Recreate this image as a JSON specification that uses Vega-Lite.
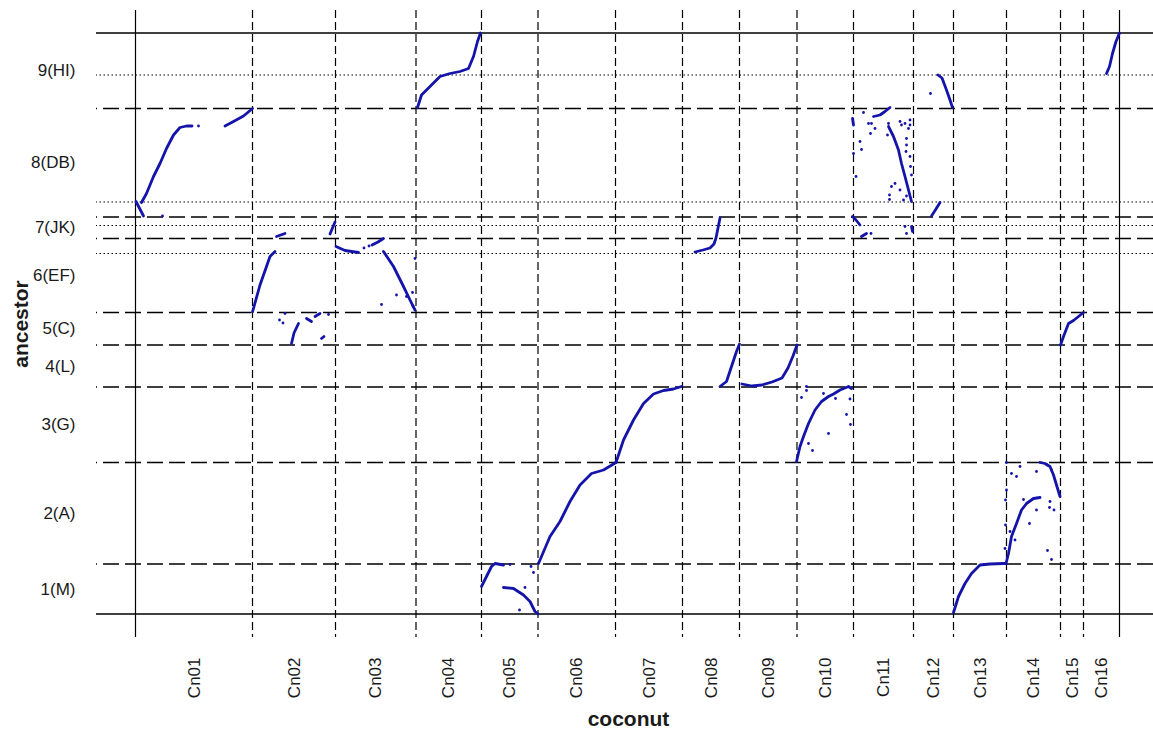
{
"$schema": "https://vega.github.io/schema/vega-lite/v6.json",
"width": 1057,
"height": 627,
"autosize": {"type": "none"},
"padding": {"left": 96, "top": 10, "right": 0, "bottom": 96},
"background": "white",
"config": {"view": {"stroke": null}, "font": "Liberation Sans"},
"datasets": {
"ref": [
{"o":"v","t":"solid","p":0},{"o":"v","t":"solid","p":1968},
{"o":"v","t":"dashed","p":234},{"o":"v","t":"dashed","p":400},{"o":"v","t":"dashed","p":561},{"o":"v","t":"dashed","p":692},{"o":"v","t":"dashed","p":805},{"o":"v","t":"dashed","p":960},{"o":"v","t":"dashed","p":1094},{"o":"v","t":"dashed","p":1208},{"o":"v","t":"dashed","p":1323},{"o":"v","t":"dashed","p":1436},{"o":"v","t":"dashed","p":1556},{"o":"v","t":"dashed","p":1636},{"o":"v","t":"dashed","p":1742},{"o":"v","t":"dashed","p":1850},{"o":"v","t":"dashed","p":1896},
{"o":"h","t":"solid","p":0},{"o":"h","t":"solid","p":1162},
{"o":"h","t":"dashed","p":100},{"o":"h","t":"dashed","p":303},{"o":"h","t":"dashed","p":454},{"o":"h","t":"dashed","p":538},{"o":"h","t":"dashed","p":603},{"o":"h","t":"dashed","p":751},{"o":"h","t":"dashed","p":794},{"o":"h","t":"dashed","p":1011},
{"o":"h","t":"dotted","p":721},{"o":"h","t":"dotted","p":777},{"o":"h","t":"dotted","p":824},{"o":"h","t":"dotted","p":1078}
],
"blocks": [
{"b":"c01a","o":0,"x":1,"y":825},{"b":"c01a","o":1,"x":16,"y":796},
{"b":"c01b","o":0,"x":12,"y":823},{"b":"c01b","o":1,"x":22,"y":841},{"b":"c01b","o":2,"x":36,"y":875},{"b":"c01b","o":3,"x":49,"y":901},{"b":"c01b","o":4,"x":62,"y":931},{"b":"c01b","o":5,"x":76,"y":958},{"b":"c01b","o":6,"x":89,"y":973},{"b":"c01b","o":7,"x":102,"y":976},{"b":"c01b","o":8,"x":113,"y":976},
{"b":"c01c","o":0,"x":179,"y":976},{"b":"c01c","o":1,"x":196,"y":985},{"b":"c01c","o":2,"x":216,"y":996},{"b":"c01c","o":3,"x":234,"y":1011},
{"b":"c02a","o":0,"x":234,"y":604},{"b":"c02a","o":1,"x":249,"y":658},{"b":"c02a","o":2,"x":269,"y":715},{"b":"c02a","o":3,"x":279,"y":725},
{"b":"c02b","o":0,"x":282,"y":755},{"b":"c02b","o":1,"x":299,"y":761},
{"b":"c02c","o":0,"x":389,"y":760},{"b":"c02c","o":1,"x":399,"y":784},
{"b":"c02d","o":0,"x":312,"y":541},{"b":"c02d","o":1,"x":317,"y":562},{"b":"c02d","o":2,"x":326,"y":581},
{"b":"c02e","o":0,"x":342,"y":591},{"b":"c02e","o":1,"x":352,"y":585},
{"b":"c02f","o":0,"x":359,"y":595},{"b":"c02f","o":1,"x":369,"y":601},
{"b":"c02g","o":0,"x":372,"y":551},{"b":"c02g","o":1,"x":377,"y":555},
{"b":"c03a","o":0,"x":401,"y":735},{"b":"c03a","o":1,"x":419,"y":727},{"b":"c03a","o":2,"x":446,"y":723},
{"b":"c03b","o":0,"x":473,"y":738},{"b":"c03b","o":1,"x":485,"y":744},{"b":"c03b","o":2,"x":496,"y":751},
{"b":"c03c","o":0,"x":496,"y":725},{"b":"c03c","o":1,"x":516,"y":695},{"b":"c03c","o":2,"x":536,"y":655},{"b":"c03c","o":3,"x":549,"y":628},{"b":"c03c","o":4,"x":559,"y":608},
{"b":"c04","o":0,"x":564,"y":1013},{"b":"c04","o":1,"x":572,"y":1038},{"b":"c04","o":2,"x":589,"y":1055},{"b":"c04","o":3,"x":609,"y":1075},{"b":"c04","o":4,"x":629,"y":1081},{"b":"c04","o":5,"x":649,"y":1085},{"b":"c04","o":6,"x":666,"y":1091},{"b":"c04","o":7,"x":676,"y":1115},{"b":"c04","o":8,"x":684,"y":1145},{"b":"c04","o":9,"x":690,"y":1162},
{"b":"c05a","o":0,"x":692,"y":55},{"b":"c05a","o":1,"x":702,"y":75},{"b":"c05a","o":2,"x":712,"y":95},{"b":"c05a","o":3,"x":719,"y":101},{"b":"c05a","o":4,"x":736,"y":98},
{"b":"c05b","o":0,"x":736,"y":53},{"b":"c05b","o":1,"x":756,"y":51},{"b":"c05b","o":2,"x":776,"y":38},{"b":"c05b","o":3,"x":789,"y":25},{"b":"c05b","o":4,"x":799,"y":5},{"b":"c05b","o":5,"x":805,"y":0},
{"b":"c06","o":0,"x":806,"y":101},{"b":"c06","o":1,"x":829,"y":155},{"b":"c06","o":2,"x":849,"y":185},{"b":"c06","o":3,"x":869,"y":225},{"b":"c06","o":4,"x":889,"y":258},{"b":"c06","o":5,"x":912,"y":281},{"b":"c06","o":6,"x":936,"y":288},{"b":"c06","o":7,"x":961,"y":303},
{"b":"c07","o":0,"x":961,"y":303},{"b":"c07","o":1,"x":976,"y":348},{"b":"c07","o":2,"x":996,"y":388},{"b":"c07","o":3,"x":1016,"y":421},{"b":"c07","o":4,"x":1036,"y":440},{"b":"c07","o":5,"x":1056,"y":447},{"b":"c07","o":6,"x":1076,"y":450},{"b":"c07","o":7,"x":1092,"y":455},
{"b":"c08a","o":0,"x":1169,"y":455},{"b":"c08a","o":1,"x":1182,"y":465},{"b":"c08a","o":2,"x":1192,"y":495},{"b":"c08a","o":3,"x":1202,"y":525},{"b":"c08a","o":4,"x":1208,"y":540},
{"b":"c08b","o":0,"x":1119,"y":724},{"b":"c08b","o":1,"x":1135,"y":728},{"b":"c08b","o":2,"x":1149,"y":732},{"b":"c08b","o":3,"x":1157,"y":740},{"b":"c08b","o":4,"x":1161,"y":752},{"b":"c08b","o":5,"x":1165,"y":772},{"b":"c08b","o":6,"x":1169,"y":792},
{"b":"c09","o":0,"x":1213,"y":460},{"b":"c09","o":1,"x":1233,"y":456},{"b":"c09","o":2,"x":1253,"y":458},{"b":"c09","o":3,"x":1273,"y":464},{"b":"c09","o":4,"x":1293,"y":472},{"b":"c09","o":5,"x":1305,"y":492},{"b":"c09","o":6,"x":1315,"y":516},{"b":"c09","o":7,"x":1323,"y":538},
{"b":"c10","o":0,"x":1322,"y":305},{"b":"c10","o":1,"x":1329,"y":335},{"b":"c10","o":2,"x":1336,"y":355},{"b":"c10","o":3,"x":1346,"y":381},{"b":"c10","o":4,"x":1359,"y":408},{"b":"c10","o":5,"x":1372,"y":425},{"b":"c10","o":6,"x":1386,"y":435},{"b":"c10","o":7,"x":1396,"y":440},{"b":"c10","o":8,"x":1409,"y":448},{"b":"c10","o":9,"x":1426,"y":455},{"b":"c10","o":10,"x":1432,"y":451},
{"b":"c11a","o":0,"x":1506,"y":975},{"b":"c11a","o":1,"x":1516,"y":955},{"b":"c11a","o":2,"x":1526,"y":928},{"b":"c11a","o":3,"x":1532,"y":901},{"b":"c11a","o":4,"x":1539,"y":875},{"b":"c11a","o":5,"x":1546,"y":848},{"b":"c11a","o":6,"x":1552,"y":825},
{"b":"c11b","o":0,"x":1476,"y":995},{"b":"c11b","o":1,"x":1489,"y":998},{"b":"c11b","o":2,"x":1499,"y":1005},{"b":"c11b","o":3,"x":1509,"y":1013},
{"b":"c11c","o":0,"x":1434,"y":991},{"b":"c11c","o":1,"x":1436,"y":978},
{"b":"c11d","o":0,"x":1434,"y":795},{"b":"c11d","o":1,"x":1441,"y":788},{"b":"c11d","o":2,"x":1449,"y":778},
{"b":"c11e","o":0,"x":1452,"y":755},{"b":"c11e","o":1,"x":1462,"y":761},
{"b":"c11f","o":0,"x":1552,"y":775},{"b":"c11f","o":1,"x":1554,"y":765},
{"b":"c12a","o":0,"x":1605,"y":1078},{"b":"c12a","o":1,"x":1613,"y":1072},{"b":"c12a","o":2,"x":1622,"y":1048},{"b":"c12a","o":3,"x":1629,"y":1028},{"b":"c12a","o":4,"x":1634,"y":1013},
{"b":"c12b","o":0,"x":1592,"y":796},{"b":"c12b","o":1,"x":1601,"y":810},{"b":"c12b","o":2,"x":1609,"y":823},
{"b":"c13","o":0,"x":1636,"y":3},{"b":"c13","o":1,"x":1646,"y":35},{"b":"c13","o":2,"x":1659,"y":61},{"b":"c13","o":3,"x":1672,"y":81},{"b":"c13","o":4,"x":1689,"y":98},{"b":"c13","o":5,"x":1709,"y":100},{"b":"c13","o":6,"x":1736,"y":101},{"b":"c13","o":7,"x":1742,"y":101},
{"b":"c14a","o":0,"x":1742,"y":105},{"b":"c14a","o":1,"x":1746,"y":121},{"b":"c14a","o":2,"x":1752,"y":155},{"b":"c14a","o":3,"x":1762,"y":181},{"b":"c14a","o":4,"x":1772,"y":208},{"b":"c14a","o":5,"x":1782,"y":221},{"b":"c14a","o":6,"x":1796,"y":231},{"b":"c14a","o":7,"x":1809,"y":233},
{"b":"c14b","o":0,"x":1809,"y":303},{"b":"c14b","o":1,"x":1819,"y":301},{"b":"c14b","o":2,"x":1829,"y":295},{"b":"c14b","o":3,"x":1836,"y":278},{"b":"c14b","o":4,"x":1842,"y":258},{"b":"c14b","o":5,"x":1849,"y":235},
{"b":"c15","o":0,"x":1850,"y":538},{"b":"c15","o":1,"x":1856,"y":555},{"b":"c15","o":2,"x":1866,"y":581},{"b":"c15","o":3,"x":1876,"y":587},{"b":"c15","o":4,"x":1886,"y":595},{"b":"c15","o":5,"x":1896,"y":603},
{"b":"c16","o":0,"x":1942,"y":1081},{"b":"c16","o":1,"x":1948,"y":1095},{"b":"c16","o":2,"x":1954,"y":1121},{"b":"c16","o":3,"x":1961,"y":1145},{"b":"c16","o":4,"x":1968,"y":1162}
],
"dots": [
{"x":54,"y":796},{"x":126,"y":976},
{"x":288,"y":588},{"x":299,"y":601},{"x":386,"y":599},{"x":295,"y":582},
{"x":457,"y":732},{"x":467,"y":736},
{"x":492,"y":619},{"x":522,"y":638},{"x":542,"y":635},{"x":554,"y":643},{"x":559,"y":711},{"x":555,"y":616},
{"x":749,"y":99},{"x":791,"y":95},{"x":796,"y":83},{"x":768,"y":8},{"x":779,"y":53},
{"x":1342,"y":455},{"x":1342,"y":447},{"x":1332,"y":433},{"x":1376,"y":441},{"x":1400,"y":431},{"x":1429,"y":430},{"x":1422,"y":399},{"x":1430,"y":379},{"x":1386,"y":361},{"x":1346,"y":341},{"x":1354,"y":327},
{"x":1456,"y":1003},{"x":1466,"y":981},{"x":1472,"y":981},{"x":1470,"y":961},{"x":1479,"y":971},{"x":1449,"y":945},{"x":1452,"y":929},{"x":1441,"y":875},{"x":1436,"y":921},{"x":1506,"y":981},{"x":1504,"y":958},{"x":1529,"y":985},{"x":1532,"y":978},{"x":1539,"y":981},{"x":1549,"y":988},{"x":1549,"y":978},{"x":1546,"y":971},{"x":1542,"y":951},{"x":1542,"y":938},{"x":1541,"y":925},{"x":1549,"y":915},{"x":1550,"y":895},{"x":1552,"y":878},{"x":1512,"y":855},{"x":1519,"y":861},{"x":1529,"y":848},{"x":1508,"y":838},{"x":1508,"y":829},{"x":1536,"y":828},{"x":1542,"y":836},{"x":1471,"y":761},{"x":1539,"y":775},{"x":1542,"y":761},
{"x":1590,"y":1041},
{"x":1742,"y":303},{"x":1769,"y":295},{"x":1752,"y":281},{"x":1762,"y":275},{"x":1802,"y":285},{"x":1742,"y":248},{"x":1740,"y":228},{"x":1740,"y":178},{"x":1749,"y":165},{"x":1759,"y":148},{"x":1739,"y":131},{"x":1776,"y":229},{"x":1802,"y":208},{"x":1788,"y":181},{"x":1829,"y":225},{"x":1828,"y":213},{"x":1837,"y":208},{"x":1824,"y":127},{"x":1832,"y":109},{"x":1823,"y":298},{"x":1832,"y":288}
]
},
"layer": [
{
"data": {"name": "ref"},
"transform": [{"filter": "datum.o == 'v' && datum.t == 'solid'"}],
"mark": {"type": "rule", "color": "black", "strokeWidth": 1.2},
"encoding": {
"x": {"field": "p", "type": "quantitative",
"scale": {"domain": [-79, 2035], "nice": false, "zero": false},
"axis": {"title": "coconut",
"values": [117,317,480.5,626.5,748.5,882.5,1027,1151,1265.5,1379.5,1496,1596,1689,1796,1873,1932],
"labelExpr": "['Cn01','Cn02','Cn03','Cn04','Cn05','Cn06','Cn07','Cn08','Cn09','Cn10','Cn11','Cn12','Cn13','Cn14','Cn15','Cn16'][indexof([117,317,480.5,626.5,748.5,882.5,1027,1151,1265.5,1379.5,1496,1596,1689,1796,1873,1932], datum.value)]",
"labelAngle": 270, "labelAlign": "right", "labelBaseline": "middle", "labelPadding": 20,
"ticks": false, "domain": false, "grid": false,
"labelFont": "Liberation Sans", "labelFontSize": 17, "labelColor": "#1a1a1a",
"labelOverlap": false, "labelFlush": false, "labelBound": false,
"titleFont": "Liberation Sans", "titleFontSize": 21, "titleFontWeight": "bold", "titleColor": "#1a1a1a",
"titleX": 532, "titleY": 88, "titleBaseline": "alphabetic", "titleAlign": "center"}}
}
},
{
"data": {"name": "ref"},
"transform": [{"filter": "datum.o == 'v' && datum.t == 'dashed'"}],
"mark": {"type": "rule", "color": "black", "strokeWidth": 1.2, "strokeDash": [8, 4]},
"encoding": {"x": {"field": "p", "type": "quantitative"}}
},
{
"data": {"name": "ref"},
"transform": [{"filter": "datum.o == 'h' && datum.t == 'solid'"}],
"mark": {"type": "rule", "color": "black", "strokeWidth": 1.3},
"encoding": {
"y": {"field": "p", "type": "quantitative",
"scale": {"domain": [-46, 1208], "nice": false, "zero": false},
"axis": {"title": "ancestor",
"values": [50,201.5,378.5,496,570.5,677,772.5,902.5,1086.5],
"labelExpr": "['1(M)','2(A)','3(G)','4(L)','5(C)','6(EF)','7(JK)','8(DB)','9(HI)'][indexof([50,201.5,378.5,496,570.5,677,772.5,902.5,1086.5], datum.value)]",
"labelAlign": "right", "labelBaseline": "middle", "labelPadding": 21,
"ticks": false, "domain": false, "grid": false,
"labelFont": "Liberation Sans", "labelFontSize": 17, "labelColor": "#1a1a1a",
"labelOverlap": false, "labelFlush": false, "labelBound": false,
"titleFont": "Liberation Sans", "titleFontSize": 21, "titleFontWeight": "bold", "titleColor": "#1a1a1a",
"titleAngle": 270, "titleX": -69, "titleY": 313.5, "titleBaseline": "alphabetic", "titleAlign": "center"}}
}
},
{
"data": {"name": "ref"},
"transform": [{"filter": "datum.o == 'h' && datum.t == 'dashed'"}],
"mark": {"type": "rule", "color": "black", "strokeWidth": 1.3, "strokeDash": [16, 6]},
"encoding": {"y": {"field": "p", "type": "quantitative"}}
},
{
"data": {"name": "ref"},
"transform": [{"filter": "datum.o == 'h' && datum.t == 'dotted'"}],
"mark": {"type": "rule", "color": "black", "strokeWidth": 1.2, "strokeDash": [1.5, 2.5]},
"encoding": {"y": {"field": "p", "type": "quantitative"}}
},
{
"data": {"name": "blocks"},
"mark": {"type": "line", "color": "#1414aa", "strokeWidth": 2.8, "strokeCap": "round", "strokeJoin": "round"},
"encoding": {
"x": {"field": "x", "type": "quantitative"},
"y": {"field": "y", "type": "quantitative"},
"detail": {"field": "b"},
"order": {"field": "o", "type": "quantitative"}
}
},
{
"data": {"name": "dots"},
"mark": {"type": "circle", "color": "#1414aa", "size": 8, "opacity": 1},
"encoding": {
"x": {"field": "x", "type": "quantitative"},
"y": {"field": "y", "type": "quantitative"}
}
}
]
}
